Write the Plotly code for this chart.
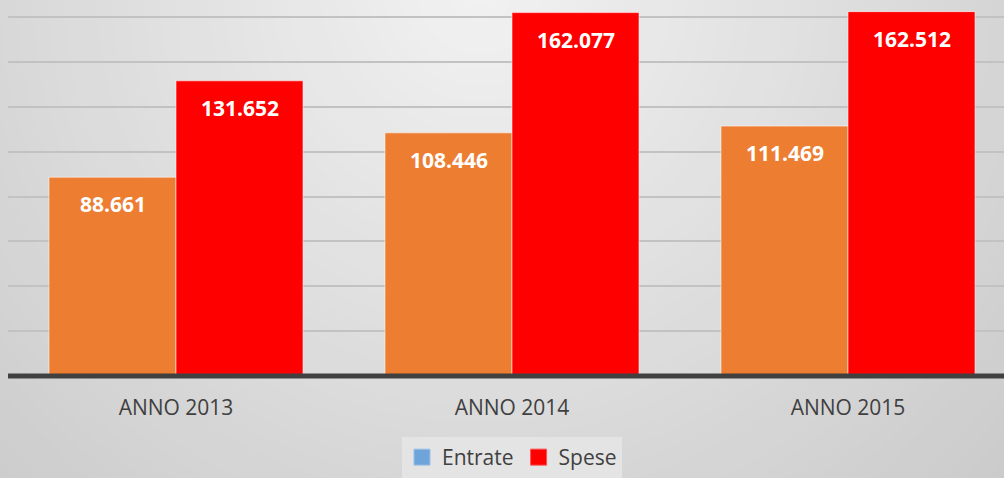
import plotly.graph_objects as go

categories = ["ANNO 2013", "ANNO 2014", "ANNO 2015"]
entrate = [88661, 108446, 111469]
spese = [131652, 162077, 162512]
entrate_labels = ["88.661", "108.446", "111.469"]
spese_labels = ["131.652", "162.077", "162.512"]

W, H = 1004, 478
ML, MR, MT, MB = 8, 0, 0, 102
PW, PH = W - ML - MR, H - MT - MB

def px_x(x):
    return (x - ML) / PW

def px_y(y):
    return (H - MB - y) / PH

fig = go.Figure()

fig.add_trace(go.Bar(
    name="Entrate", x=categories, y=entrate, showlegend=False,
    marker=dict(color="#ED7D31", line=dict(color="rgba(255,255,255,0.55)", width=1)),
    hoverinfo="skip",
))
fig.add_trace(go.Bar(
    name="Spese", x=categories, y=spese, showlegend=False,
    marker=dict(color="#FF0000", line=dict(color="rgba(255,255,255,0.55)", width=1)),
    hoverinfo="skip",
))
# legend-only entries
fig.add_trace(go.Scatter(
    name="Entrate", x=[None], y=[None], mode="markers",
    marker=dict(symbol="square", size=16, color="#6FA4DA", line=dict(color="#9CC2E8", width=1)),
))
fig.add_trace(go.Scatter(
    name="Spese", x=[None], y=[None], mode="markers",
    marker=dict(symbol="square", size=16, color="#FF0000", line=dict(color="#FF5050", width=1)),
))

# background radial gradient
shapes = []
cx, cy = 480, -10
for r in range(800, 0, -16):
    b = int(round(242 - 0.054 * r))
    col = f"rgb({b},{b},{b})"
    shapes.append(dict(
        type="circle", xref="paper", yref="paper", layer="below",
        x0=px_x(cx - r), x1=px_x(cx + r), y0=px_y(cy + r), y1=px_y(cy - r),
        fillcolor=col, line=dict(width=0),
    ))
# x-axis baseline
shapes.append(dict(type="line", xref="paper", yref="paper", x0=0, x1=1, y0=0, y1=0,
                   line=dict(color="#404040", width=5), layer="above"))

annotations = []
for i, c in enumerate(categories):
    annotations.append(dict(x=c, y=entrate[i], text=entrate_labels[i], showarrow=False,
                            xshift=-63.5, yshift=-27, yanchor="middle",
                            font=dict(family="Open Sans", size=21, color="white", weight="bold")))
    annotations.append(dict(x=c, y=spese[i], text=spese_labels[i], showarrow=False,
                            xshift=63.5, yshift=-27, yanchor="middle",
                            font=dict(family="Open Sans", size=21, color="white", weight="bold")))

fig.update_layout(
    width=W, height=H,
    margin=dict(l=ML, r=MR, t=MT, b=MB),
    paper_bgcolor="rgb(199,199,199)",
    plot_bgcolor="rgba(0,0,0,0)",
    barmode="group", bargap=0.244, bargroupgap=0,
    shapes=shapes, annotations=annotations,
    showlegend=True,
    legend=dict(orientation="h", x=px_x(512), xanchor="center", y=px_y(437), yanchor="top",
                bgcolor="#e4e4e4", font=dict(family="Open Sans", size=21, color="#404040"),
                itemwidth=30, tracegroupgap=0),
    xaxis=dict(range=[-0.5, 2.5 - 12 / 336], showgrid=False, zeroline=False, showline=False,
               ticks="outside", ticklen=13, tickcolor="rgba(0,0,0,0)",
               tickfont=dict(family="Open Sans", size=21, color="#404040")),
    yaxis=dict(range=[0, 167700], dtick=20000, showgrid=True, gridcolor="#c2c2c2", gridwidth=2,
               zeroline=False, showticklabels=False, showline=False),
)

fig.write_html(
    "out.html",
    config={"displayModeBar": False},
    post_script="document.body.style.margin='0';document.body.style.padding='0';document.body.style.overflow='hidden';",
)
